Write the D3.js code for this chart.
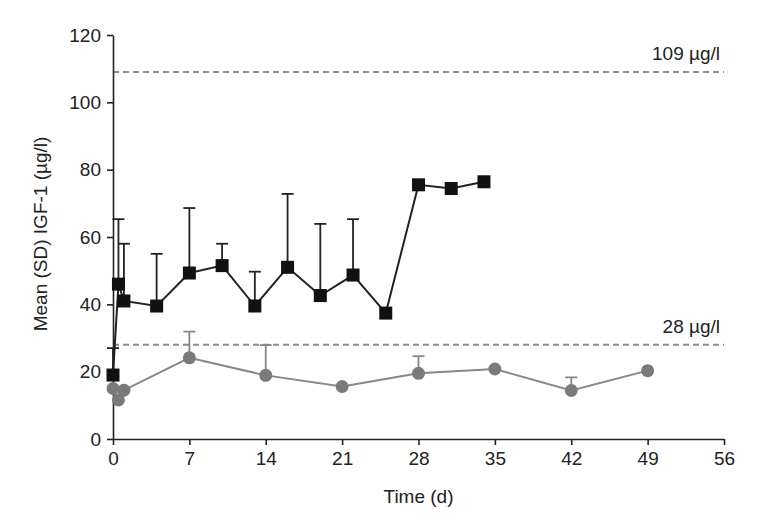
<!DOCTYPE html>
<html>
<head>
<meta charset="utf-8">
<script src="https://cdn.jsdelivr.net/npm/d3@7"></script>
<style>
  body { margin: 0; background: #fff; }
  svg text { font-family: "Liberation Sans", Arial, sans-serif; fill: #222; }
</style>
</head>
<body>
<div id="chart"></div>
<script>
// IGF-1 means with upper SD whisker
const blackDays = [0, 0.5, 1, 4, 7, 10, 13, 16, 19, 22, 25, 28, 31, 34];
const blackMeans = [19, 46, 41, 39.5, 49.3, 51.5, 39.5, 51, 42.6, 48.7, 37.4, 75.5, 74.4, 76.4];
const blackUpper = [27, 65.3, 58, 55, 68.6, 58, 49.7, 72.8, 63.9, 65.3, null, null, null, null];

const greyDays = [0, 0.5, 1, 7, 14, 21, 28, 35, 42, 49];
const greyMeans = [15, 11.6, 14.5, 24.1, 18.9, 15.6, 19.5, 20.8, 14.4, 20.3];
const greyUpper = [null, null, null, 31.9, 27.9, null, 24.6, null, 18.3, null];

const xTicks = [0, 7, 14, 21, 28, 35, 42, 49, 56];
const yTicks = [0, 20, 40, 60, 80, 100, 120];
const refValues = [109, 28];
const refLabels = ['109 µg/l', '28 µg/l'];

const width = 758, height = 530;
const margin = { top: 35, right: 34, bottom: 91, left: 113 };

const svg = d3.select('#chart')
  .append('svg')
  .attr('width', width)
  .attr('height', height);

const x = d3.scaleLinear()
  .domain([0, 56])
  .range([margin.left, width - margin.right]);

const y = d3.scaleLinear()
  .domain([0, 120])
  .range([height - margin.bottom, margin.top]);

// reference lines
refValues.forEach((v, i) => {
  svg.append('line')
    .attr('x1', x(0))
    .attr('x2', x(56))
    .attr('y1', y(v))
    .attr('y2', y(v))
    .attr('stroke', '#8c8c8c')
    .attr('stroke-width', 2)
    .attr('stroke-dasharray', '6,4');

  svg.append('text')
    .attr('x', x(56) - 4)
    .attr('y', y(v) - 12)
    .attr('text-anchor', 'end')
    .style('font-size', '19px')
    .text(refLabels[i]);
});

// axes
const yAxis = svg.append('g')
  .attr('transform', `translate(${margin.left},0)`)
  .call(d3.axisLeft(y).tickValues(yTicks).tickSize(6).tickPadding(6).tickSizeOuter(0));

const xAxis = svg.append('g')
  .attr('transform', `translate(0,${height - margin.bottom})`)
  .call(d3.axisBottom(x).tickValues(xTicks).tickSize(6).tickPadding(7).tickSizeOuter(0));

[xAxis, yAxis].forEach(g => {
  g.select('.domain').attr('stroke', '#222').attr('stroke-width', 1.6);
  g.selectAll('.tick line').attr('stroke', '#222').attr('stroke-width', 1.6);
  g.selectAll('.tick text')
    .style('font-size', '19px')
    .style('font-family', '"Liberation Sans", Arial, sans-serif')
    .attr('fill', '#222');
});

svg.append('text')
  .attr('x', (x(0) + x(56)) / 2)
  .attr('y', 503)
  .attr('text-anchor', 'middle')
  .style('font-size', '19px')
  .text('Time (d)');

svg.append('text')
  .attr('transform', `translate(47,234) rotate(-90)`)
  .attr('text-anchor', 'middle')
  .style('font-size', '19px')
  .text('Mean (SD) IGF-1 (µg/l)');

function drawSeries(days, means, upper, color, lineColor, shape) {
  const pts = days.map((d, i) => ({ d, m: means[i], u: upper[i] }));

  // upper SD whiskers
  const bars = pts.filter(p => p.u !== null);
  svg.selectAll(null)
    .data(bars)
    .enter()
    .append('line')
    .attr('x1', p => x(p.d))
    .attr('x2', p => x(p.d))
    .attr('y1', p => y(p.m))
    .attr('y2', p => y(p.u))
    .attr('stroke', lineColor)
    .attr('stroke-width', 1.8);

  svg.selectAll(null)
    .data(bars)
    .enter()
    .append('line')
    .attr('x1', p => x(p.d) - 6)
    .attr('x2', p => x(p.d) + 6)
    .attr('y1', p => y(p.u))
    .attr('y2', p => y(p.u))
    .attr('stroke', lineColor)
    .attr('stroke-width', 1.8);

  svg.append('path')
    .datum(pts)
    .attr('d', d3.line().x(p => x(p.d)).y(p => y(p.m)))
    .attr('fill', 'none')
    .attr('stroke', lineColor)
    .attr('stroke-width', 2);

  if (shape === 'square') {
    svg.selectAll(null)
      .data(pts)
      .enter()
      .append('rect')
      .attr('x', p => x(p.d) - 6.5)
      .attr('y', p => y(p.m) - 6.5)
      .attr('width', 13)
      .attr('height', 13)
      .attr('fill', color);
  } else {
    svg.selectAll(null)
      .data(pts)
      .enter()
      .append('circle')
      .attr('cx', p => x(p.d))
      .attr('cy', p => y(p.m))
      .attr('r', 6.5)
      .attr('fill', color);
  }
}

drawSeries(blackDays, blackMeans, blackUpper, '#111', '#222', 'square');
drawSeries(greyDays, greyMeans, greyUpper, '#7a7a7a', '#888', 'circle');
</script>
</body>
</html>
